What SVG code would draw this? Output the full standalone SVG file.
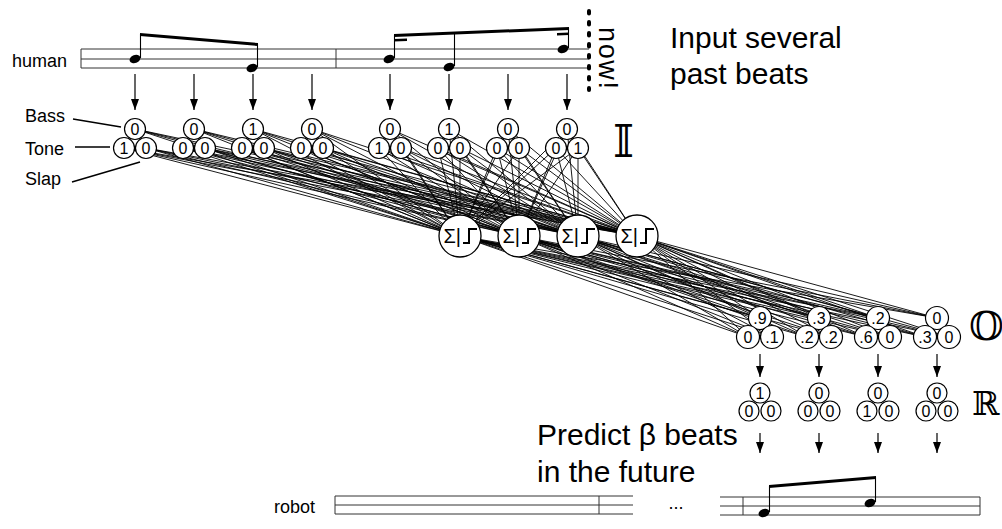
<svg xmlns="http://www.w3.org/2000/svg" width="1002" height="529" viewBox="0 0 1002 529">
<defs>
<style>
text{font-family:"Liberation Sans",Arial,sans-serif;fill:#000}
.lbl{font-size:18px}
.big{font-size:30px}
.d{font-size:16px;text-anchor:middle}
.c{fill:#fff;stroke:#000;stroke-width:1.2}
.h{fill:#fff;stroke:#000;stroke-width:1.3}
.staff{fill:none;stroke:#333;stroke-width:1}
.w{stroke:#000;stroke-width:0.9;fill:none}
.arr line{stroke:#000;stroke-width:1.2;marker-end:url(#ah)}
.ds{font-family:"DejaVu Serif","DejaVu Sans",serif}
.stem{stroke:#000;stroke-width:1.1}
.step{fill:none;stroke:#000;stroke-width:2}
</style>
<marker id="ah" viewBox="0 0 11 8" refX="11" refY="4" markerWidth="11" markerHeight="8" markerUnits="userSpaceOnUse" orient="auto"><path d="M0 0L11 4L0 8z"/></marker>
</defs>
<rect width="1002" height="529" fill="#fff"/>

<!-- human staff -->
<g id="staff-human">
<path class="staff" d="M81 49H589M81 59H589M81 68H589M81 49V68M336 49V68"/>
<text class="lbl" x="12" y="67">human</text>
<ellipse cx="135" cy="59" rx="5.6" ry="4" transform="rotate(-20 135 59)"/>
<ellipse cx="252" cy="68" rx="5.6" ry="4" transform="rotate(-20 252 68)"/>
<ellipse cx="389" cy="59" rx="5.6" ry="4" transform="rotate(-20 389 59)"/>
<ellipse cx="449" cy="67" rx="5.6" ry="4" transform="rotate(-20 449 67)"/>
<ellipse cx="563" cy="49" rx="5.6" ry="4" transform="rotate(-20 563 49)"/>
<path class="stem" d="M140.5 58V34M257.5 67V44M394.5 58V35M454.5 66V33M568.5 48V28"/>
<polygon points="140,33 258,43 258,46 140,36"/>
<polygon points="394,34 569,27 569,30 394,37"/>
<polygon points="394,39 407,38.5 407,41 394,41.5"/>
<polygon points="557,33 569,32.5 569,35 557,35.5"/>
</g>

<!-- present-time marker -->
<g id="now">
<line x1="589" y1="11" x2="589" y2="90" stroke="#000" stroke-width="4" stroke-linecap="round" stroke-dasharray="2.5 8.5"/>
<text font-size="27" transform="translate(599 27) rotate(90)" textLength="62">now!</text>
</g>

<g id="caption-input">
<text class="big" x="670" y="48">Input several</text>
<text class="big" x="670" y="84">past beats</text>
</g>

<!-- input arrows -->
<g id="arrows-in" class="arr">
<line x1="135" y1="74" x2="135" y2="110"/><line x1="194" y1="74" x2="194" y2="110"/><line x1="253" y1="74" x2="253" y2="110"/><line x1="312" y1="74" x2="312" y2="110"/>
<line x1="390" y1="74" x2="390" y2="110"/><line x1="449" y1="74" x2="449" y2="110"/><line x1="508" y1="74" x2="508" y2="110"/><line x1="567" y1="74" x2="567" y2="110"/>
</g>

<!-- connectors -->
<g id="connectors" class="w">
<path d="M460 236L135 129M460 236L124 148M460 236L146 148M460 236L194 129M460 236L183 148M460 236L205 148M460 236L253 129M460 236L242 148M460 236L264 148M460 236L312 129M460 236L301 148M460 236L323 148M460 236L390 129M460 236L379 148M460 236L401 148M460 236L449 129M460 236L438 148M460 236L460 148M460 236L508 129M460 236L497 148M460 236L519 148M460 236L567 129M460 236L556 148M460 236L578 148"/>
<path d="M519 236L135 129M519 236L124 148M519 236L146 148M519 236L194 129M519 236L183 148M519 236L205 148M519 236L253 129M519 236L242 148M519 236L264 148M519 236L312 129M519 236L301 148M519 236L323 148M519 236L390 129M519 236L379 148M519 236L401 148M519 236L449 129M519 236L438 148M519 236L460 148M519 236L508 129M519 236L497 148M519 236L519 148M519 236L567 129M519 236L556 148M519 236L578 148"/>
<path d="M578 236L135 129M578 236L124 148M578 236L146 148M578 236L194 129M578 236L183 148M578 236L205 148M578 236L253 129M578 236L242 148M578 236L264 148M578 236L312 129M578 236L301 148M578 236L323 148M578 236L390 129M578 236L379 148M578 236L401 148M578 236L449 129M578 236L438 148M578 236L460 148M578 236L508 129M578 236L497 148M578 236L519 148M578 236L567 129M578 236L556 148M578 236L578 148"/>
<path d="M637 236L135 129M637 236L124 148M637 236L146 148M637 236L194 129M637 236L183 148M637 236L205 148M637 236L253 129M637 236L242 148M637 236L264 148M637 236L312 129M637 236L301 148M637 236L323 148M637 236L390 129M637 236L379 148M637 236L401 148M637 236L449 129M637 236L438 148M637 236L460 148M637 236L508 129M637 236L497 148M637 236L519 148M637 236L567 129M637 236L556 148M637 236L578 148"/>
<path d="M460 236L760 318M460 236L748 337M460 236L772 337M460 236L819 318M460 236L807 337M460 236L831 337M460 236L878 318M460 236L866 337M460 236L890 337M460 236L937 318M460 236L925 337M460 236L949 337"/>
<path d="M519 236L760 318M519 236L748 337M519 236L772 337M519 236L819 318M519 236L807 337M519 236L831 337M519 236L878 318M519 236L866 337M519 236L890 337M519 236L937 318M519 236L925 337M519 236L949 337"/>
<path d="M578 236L760 318M578 236L748 337M578 236L772 337M578 236L819 318M578 236L807 337M578 236L831 337M578 236L878 318M578 236L866 337M578 236L890 337M578 236L937 318M578 236L925 337M578 236L949 337"/>
<path d="M637 236L760 318M637 236L748 337M637 236L772 337M637 236L819 318M637 236L807 337M637 236L831 337M637 236L878 318M637 236L866 337M637 236L890 337M637 236L937 318M637 236L925 337M637 236L949 337"/>
</g>

<!-- channel labels -->
<g id="channel-labels">
<text class="lbl" x="25" y="122">Bass</text>
<text class="lbl" x="25" y="155">Tone</text>
<text class="lbl" x="25" y="185">Slap</text>
<path stroke="#000" stroke-width="1.5" d="M73 119L121 127M75 147H110M72 182L140 162"/>
</g>

<!-- input layer -->
<g id="in-1"><circle class="c" cx="135" cy="129" r="10.5"/><circle class="c" cx="124" cy="148" r="10.5"/><circle class="c" cx="146" cy="148" r="10.5"/><text class="d" x="135" y="134.5">0</text><text class="d" x="124" y="153.5">1</text><text class="d" x="146" y="153.5">0</text></g>
<g id="in-2"><circle class="c" cx="194" cy="129" r="10.5"/><circle class="c" cx="183" cy="148" r="10.5"/><circle class="c" cx="205" cy="148" r="10.5"/><text class="d" x="194" y="134.5">0</text><text class="d" x="183" y="153.5">0</text><text class="d" x="205" y="153.5">0</text></g>
<g id="in-3"><circle class="c" cx="253" cy="129" r="10.5"/><circle class="c" cx="242" cy="148" r="10.5"/><circle class="c" cx="264" cy="148" r="10.5"/><text class="d" x="253" y="134.5">1</text><text class="d" x="242" y="153.5">0</text><text class="d" x="264" y="153.5">0</text></g>
<g id="in-4"><circle class="c" cx="312" cy="129" r="10.5"/><circle class="c" cx="301" cy="148" r="10.5"/><circle class="c" cx="323" cy="148" r="10.5"/><text class="d" x="312" y="134.5">0</text><text class="d" x="301" y="153.5">0</text><text class="d" x="323" y="153.5">0</text></g>
<g id="in-5"><circle class="c" cx="390" cy="129" r="10.5"/><circle class="c" cx="379" cy="148" r="10.5"/><circle class="c" cx="401" cy="148" r="10.5"/><text class="d" x="390" y="134.5">0</text><text class="d" x="379" y="153.5">1</text><text class="d" x="401" y="153.5">0</text></g>
<g id="in-6"><circle class="c" cx="449" cy="129" r="10.5"/><circle class="c" cx="438" cy="148" r="10.5"/><circle class="c" cx="460" cy="148" r="10.5"/><text class="d" x="449" y="134.5">1</text><text class="d" x="438" y="153.5">0</text><text class="d" x="460" y="153.5">0</text></g>
<g id="in-7"><circle class="c" cx="508" cy="129" r="10.5"/><circle class="c" cx="497" cy="148" r="10.5"/><circle class="c" cx="519" cy="148" r="10.5"/><text class="d" x="508" y="134.5">0</text><text class="d" x="497" y="153.5">0</text><text class="d" x="519" y="153.5">0</text></g>
<g id="in-8"><circle class="c" cx="567" cy="129" r="10.5"/><circle class="c" cx="556" cy="148" r="10.5"/><circle class="c" cx="578" cy="148" r="10.5"/><text class="d" x="567" y="134.5">0</text><text class="d" x="556" y="153.5">0</text><text class="d" x="578" y="153.5">1</text></g>
<text class="ds" x="613" y="157" font-size="45">𝕀</text>

<!-- hidden layer -->
<g id="hid-1"><circle class="h" cx="460" cy="236" r="21"/><text x="461" y="243" font-size="20" text-anchor="end">Σ|</text><path class="step" d="M463 243H469V229H477"/></g>
<g id="hid-2"><circle class="h" cx="519" cy="236" r="21"/><text x="520" y="243" font-size="20" text-anchor="end">Σ|</text><path class="step" d="M522 243H528V229H536"/></g>
<g id="hid-3"><circle class="h" cx="578" cy="236" r="21"/><text x="579" y="243" font-size="20" text-anchor="end">Σ|</text><path class="step" d="M581 243H587V229H595"/></g>
<g id="hid-4"><circle class="h" cx="637" cy="236" r="21"/><text x="638" y="243" font-size="20" text-anchor="end">Σ|</text><path class="step" d="M640 243H646V229H654"/></g>

<!-- output layer -->
<g id="out-1"><circle class="c" cx="760" cy="318" r="11.5"/><circle class="c" cx="748" cy="337" r="11.5"/><circle class="c" cx="772" cy="337" r="11.5"/><text class="d" x="760" y="323.5">.9</text><text class="d" x="748" y="342.5">0</text><text class="d" x="772" y="342.5">.1</text></g>
<g id="out-2"><circle class="c" cx="819" cy="318" r="11.5"/><circle class="c" cx="807" cy="337" r="11.5"/><circle class="c" cx="831" cy="337" r="11.5"/><text class="d" x="819" y="323.5">.3</text><text class="d" x="807" y="342.5">.2</text><text class="d" x="831" y="342.5">.2</text></g>
<g id="out-3"><circle class="c" cx="878" cy="318" r="11.5"/><circle class="c" cx="866" cy="337" r="11.5"/><circle class="c" cx="890" cy="337" r="11.5"/><text class="d" x="878" y="323.5">.2</text><text class="d" x="866" y="342.5">.6</text><text class="d" x="890" y="342.5">0</text></g>
<g id="out-4"><circle class="c" cx="937" cy="318" r="11.5"/><circle class="c" cx="925" cy="337" r="11.5"/><circle class="c" cx="949" cy="337" r="11.5"/><text class="d" x="937" y="323.5">0</text><text class="d" x="925" y="342.5">.3</text><text class="d" x="949" y="342.5">0</text></g>
<text class="ds" x="969" y="340" font-size="40">𝕆</text>

<!-- rounded result layer -->
<g id="arrows-out" class="arr">
<line x1="760" y1="354" x2="760" y2="377"/><line x1="819" y1="354" x2="819" y2="377"/><line x1="878" y1="354" x2="878" y2="377"/><line x1="937" y1="354" x2="937" y2="377"/>
<line x1="760" y1="433" x2="760" y2="453"/><line x1="819" y1="433" x2="819" y2="453"/><line x1="878" y1="433" x2="878" y2="453"/><line x1="937" y1="433" x2="937" y2="453"/>
</g>
<g id="res-1"><circle class="c" cx="760" cy="393" r="10"/><circle class="c" cx="749" cy="411" r="10"/><circle class="c" cx="771" cy="411" r="10"/><text class="d" x="760" y="398.5">1</text><text class="d" x="749" y="416.5">0</text><text class="d" x="771" y="416.5">0</text></g>
<g id="res-2"><circle class="c" cx="819" cy="393" r="10"/><circle class="c" cx="808" cy="411" r="10"/><circle class="c" cx="830" cy="411" r="10"/><text class="d" x="819" y="398.5">0</text><text class="d" x="808" y="416.5">0</text><text class="d" x="830" y="416.5">0</text></g>
<g id="res-3"><circle class="c" cx="878" cy="393" r="10"/><circle class="c" cx="867" cy="411" r="10"/><circle class="c" cx="889" cy="411" r="10"/><text class="d" x="878" y="398.5">0</text><text class="d" x="867" y="416.5">1</text><text class="d" x="889" y="416.5">0</text></g>
<g id="res-4"><circle class="c" cx="937" cy="393" r="10"/><circle class="c" cx="926" cy="411" r="10"/><circle class="c" cx="948" cy="411" r="10"/><text class="d" x="937" y="398.5">0</text><text class="d" x="926" y="416.5">0</text><text class="d" x="948" y="416.5">0</text></g>
<text class="ds" x="972" y="415" font-size="33">ℝ</text>

<g id="caption-predict">
<text class="big" x="537" y="445">Predict β beats</text>
<text class="big" x="537" y="482">in the future</text>
</g>

<!-- robot staff -->
<g id="staff-robot">
<text class="lbl" x="315" y="513" text-anchor="end">robot</text>
<path class="staff" d="M335 496H633M335 505H633M335 514H633M335 496V514M599 496V514"/>
<text x="676" y="509" font-size="18" text-anchor="middle">...</text>
<path class="staff" d="M720 497H980M720 506H980M720 515H980M743 497V515M980 497V515"/>
<ellipse cx="764" cy="513" rx="5.6" ry="4" transform="rotate(-20 764 513)"/>
<ellipse cx="870" cy="503" rx="5.6" ry="4" transform="rotate(-20 870 503)"/>
<path class="stem" d="M769.5 512V486M875.5 502V477"/>
<polygon points="769,485 876,476 876,479 769,488"/>
</g>
</svg>
